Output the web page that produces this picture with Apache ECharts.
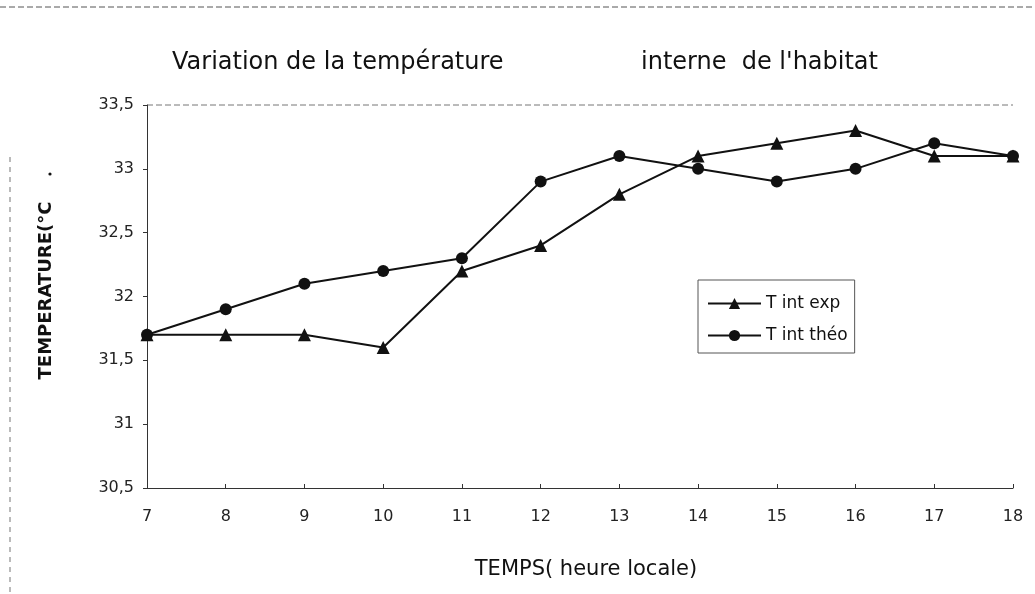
<!DOCTYPE html>
<html><head><meta charset="utf-8">
<script src="https://cdn.jsdelivr.net/npm/echarts@6/dist/echarts.min.js"></script>
<style>html,body{margin:0;padding:0;background:#fff}#c{width:1035px;height:594px}</style>
</head><body><div id="c"></div>
<script>
const hours = ['7','8','9','10','11','12','13','14','15','16','17','18'];
const tIntExp = [31.7,31.7,31.7,31.6,32.2,32.4,32.8,33.1,33.2,33.3,33.1,33.1];
const tIntTheo = [31.7,31.9,32.1,32.2,32.3,32.9,33.1,33.0,32.9,33.0,33.2,33.1];
const chart = echarts.init(document.getElementById('c'));
const font = '"DejaVu Sans", Arial, sans-serif';
chart.setOption({
  animation:false,
  backgroundColor:'#fff',
  title:[
    {text:'Variation de la température',left:167,top:46,
      textStyle:{fontFamily:font,fontSize:24,fontWeight:'normal',color:'#111'}},
    {text:'interne  de l\'habitat',left:636,top:46,
      textStyle:{fontFamily:font,fontSize:24,fontWeight:'normal',color:'#111'}}
  ],
  grid:{left:147,right:22,top:105,bottom:106},
  legend:{orient:'vertical',left:698,top:280,itemWidth:53,itemHeight:14,itemGap:15,
    borderColor:'#555',borderWidth:1,padding:[15,7,9,9],
    textStyle:{fontFamily:font,fontSize:17,color:'#111'},
    data:['T int exp','T int théo']},
  xAxis:{type:'category',data:hours,boundaryGap:false,
    name:'TEMPS( heure locale)',nameLocation:'middle',nameGap:71,
    nameTextStyle:{fontFamily:font,fontSize:21,color:'#111',padding:[0,0,0,12]},
    axisLine:{lineStyle:{color:'#333',width:1}},
    axisTick:{show:true,length:-4,lineStyle:{color:'#333'}},
    axisLabel:{fontFamily:font,fontSize:16,color:'#222',margin:21},
    splitLine:{show:false}},
  yAxis:{type:'value',min:30.5,max:33.5,interval:0.5,
    name:'TEMPERATURE(°C',nameLocation:'middle',nameGap:92,nameRotate:90,
    nameTextStyle:{fontFamily:font,fontSize:18,fontWeight:'bold',color:'#111',padding:[0,0,0,12]},
    axisLine:{show:true,lineStyle:{color:'#333',width:1}},
    axisTick:{show:true,length:4,lineStyle:{color:'#333'}},
    axisLabel:{fontFamily:font,fontSize:16,color:'#222',margin:13,formatter:v=>String(v).replace('.',',')},
    splitLine:{show:false}},
  graphic:[
    {type:'line',shape:{x1:0,y1:7,x2:1035,y2:7},style:{stroke:'#555',lineWidth:1,lineDash:[6,3]}},
    {type:'line',shape:{x1:147,y1:105,x2:1013,y2:105},style:{stroke:'#777',lineWidth:1,lineDash:[6,3]}},
    {type:'line',shape:{x1:10,y1:157,x2:10,y2:594},style:{stroke:'#777',lineWidth:1,lineDash:[5,5]}},
    {type:'circle',shape:{cx:50,cy:174,r:1.6},style:{fill:'#111'}}
  ],
  series:[
    {name:'T int exp',type:'line',data:tIntExp,symbol:'triangle',symbolSize:13,
      lineStyle:{color:'#111',width:2},itemStyle:{color:'#111'}},
    {name:'T int théo',type:'line',data:tIntTheo,symbol:'circle',symbolSize:12,
      lineStyle:{color:'#111',width:2},itemStyle:{color:'#111'}}
  ]
});
</script></body></html>
